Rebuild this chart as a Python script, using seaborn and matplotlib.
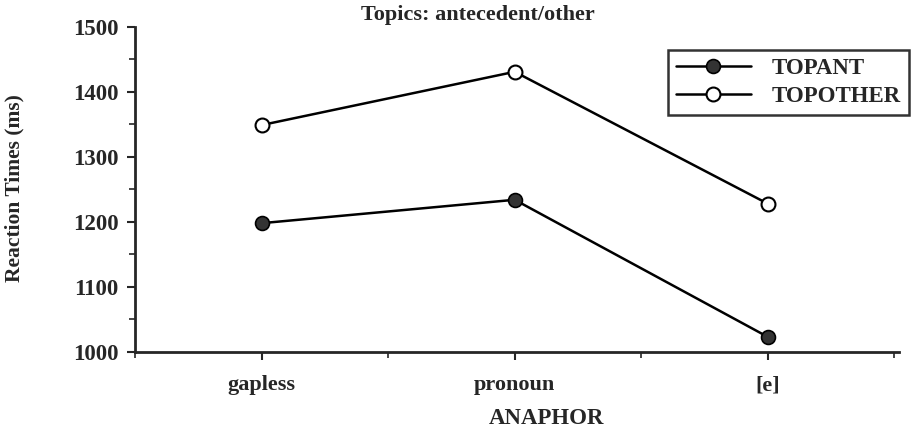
import numpy as np
import pandas as pd
import matplotlib
matplotlib.use("Agg")
import matplotlib.pyplot as plt
from matplotlib.ticker import MultipleLocator
import seaborn as sns

# values
anaphor = ["gapless", "pronoun", "[e]"]
topant = [1198, 1234, 1023]
topother = [1349, 1431, 1228]

df = pd.DataFrame({
    "pos": list(range(len(anaphor))) * 2,
    "rt": topant + topother,
    "cond": ["TOPANT"] * 3 + ["TOPOTHER"] * 3,
})

sns.set_style("ticks")
plt.rcParams["font.family"] = ["Liberation Serif", "DejaVu Serif"]
plt.rcParams["font.weight"] = "bold"

fig = plt.figure(figsize=(9.13, 4.28), dpi=100)
ax = fig.add_axes([0.148, 0.178, 0.837, 0.759])

sns.lineplot(data=df[df.cond == "TOPANT"], x="pos", y="rt", ax=ax, color="black",
             lw=1.8, marker="o", markersize=10, markerfacecolor="#333333",
             markeredgecolor="black", markeredgewidth=1.2, label="TOPANT")
sns.lineplot(data=df[df.cond == "TOPOTHER"], x="pos", y="rt", ax=ax, color="black",
             lw=1.8, marker="o", markersize=10, markerfacecolor="white",
             markeredgecolor="black", markeredgewidth=1.5, label="TOPOTHER")

ax.set_xlim(-0.5, 2.52)
ax.set_ylim(1000, 1500)
ax.set_xticks(range(len(anaphor)))
ax.set_xticklabels(anaphor, fontsize=16, fontweight="bold")
ax.xaxis.set_minor_locator(MultipleLocator(0.5))
ax.set_yticks(range(1000, 1501, 100))
ax.yaxis.set_minor_locator(MultipleLocator(50))
ax.tick_params(axis="y", labelsize=16.5, length=6, width=1.5, pad=6)
ax.tick_params(axis="x", length=6, width=1.5, pad=11)
ax.tick_params(which="minor", length=4, width=1.2)
for lab in ax.get_yticklabels():
    lab.set_fontweight("bold")

for s in ["top", "right"]:
    ax.spines[s].set_visible(False)
for s in ["left", "bottom"]:
    ax.spines[s].set_linewidth(2)

ax.set_xlabel("ANAPHOR", fontsize=16.5, fontweight="bold")
ax.xaxis.set_label_coords(0.538, -0.172)
ax.set_ylabel("Reaction Times (ms)", fontsize=15.5, fontweight="bold")
ax.yaxis.set_label_coords(-0.145, 0.505)
fig.text(0.5235, 0.965, "Topics: antecedent/other", fontsize=16, fontweight="bold",
         ha="center", va="center")

leg = ax.legend(loc="upper right", bbox_to_anchor=(0.9956, 0.884),
                bbox_transform=fig.transFigure, frameon=True,
                fancybox=False, edgecolor="black", fontsize=16.5, handlelength=3.3,
                borderpad=0.35, borderaxespad=0, labelspacing=0.3, handletextpad=0.9)
leg.get_frame().set_linewidth(1.8)
for t in leg.get_texts():
    t.set_fontweight("bold")

fig.savefig("out.png", dpi=100)
